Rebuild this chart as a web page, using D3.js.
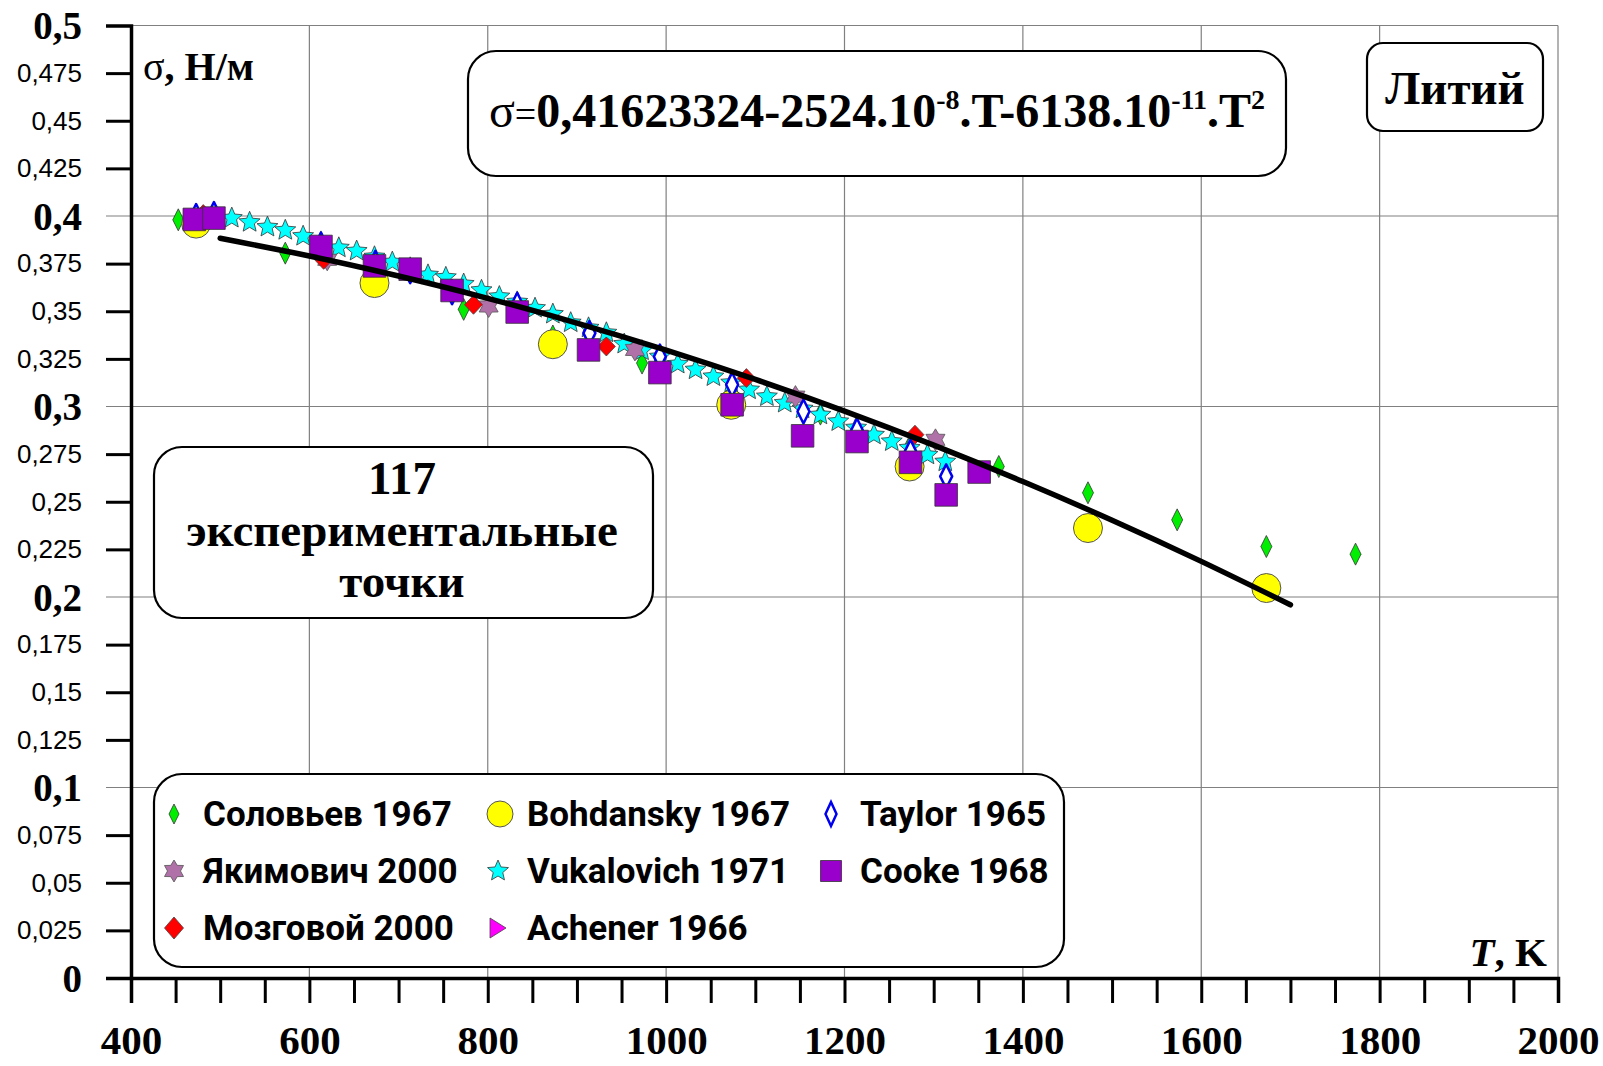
<!DOCTYPE html>
<html lang="ru">
<head>
<meta charset="utf-8">
<title>Литий: поверхностное натяжение</title>
<script src="https://cdnjs.cloudflare.com/ajax/libs/d3/7.8.5/d3.min.js"></script>
<style>
  body { margin: 0; background: #fff; }
  svg { display: block; }
  .minor text { font-family: "Liberation Sans", Arial, sans-serif; font-size: 26px; }
  .serif { font-family: "Liberation Serif", "Times New Roman", serif; font-weight: bold; }
  .leg { font-family: Roboto, "Open Sans", sans-serif; font-weight: bold; font-size: 35px; }
</style>
</head>
<body>
<div id="chart"></div>
<script>
// --- data ---
var solovievT = [453, 573, 673, 773, 873, 973, 1073, 1173, 1273, 1373, 1473, 1573, 1673, 1773];
var solovievS = [0.398, 0.3805, 0.370, 0.351, 0.337, 0.3228, 0.309, 0.296, 0.279, 0.2685, 0.2547, 0.2405, 0.2265, 0.2225];

var bohdanskyT = [473, 673, 873, 1073, 1273, 1473, 1673];
var bohdanskyS = [0.396, 0.3648, 0.3327, 0.3009, 0.2685, 0.2362, 0.2047];

var taylorT = [473, 493, 613, 674, 713, 760, 833, 914, 993, 1074, 1154, 1214, 1274, 1314];
var taylorS = [0.400, 0.401, 0.385, 0.3754, 0.371, 0.360, 0.3534, 0.3385, 0.3262, 0.3114, 0.2974, 0.2874, 0.2762, 0.2633];

var yakimovichT = [473, 620, 801, 965, 1145, 1302];
var yakimovichS = [0.400, 0.377, 0.3525, 0.3297, 0.3052, 0.2825];

var vukalovichT = [473, 493, 513, 533, 553, 573, 593, 613, 633, 653, 673, 693, 713, 733, 753,
  773, 793, 813, 833, 853, 873, 893, 913, 933, 953, 973, 993, 1013, 1033, 1053, 1073, 1093,
  1113, 1133, 1153, 1173, 1193, 1213, 1233, 1253, 1273, 1293, 1313];
var vukalovichS = [0.401, 0.400, 0.3989, 0.3967, 0.3942, 0.3925, 0.3894, 0.3864, 0.3833, 0.3816,
  0.3786, 0.3758, 0.3728, 0.3691, 0.3678, 0.3643, 0.3610, 0.3577, 0.3549, 0.3516, 0.3485, 0.3440,
  0.3413, 0.3387, 0.3328, 0.3293, 0.3261, 0.3223, 0.3193, 0.3157, 0.3125, 0.3088, 0.3052, 0.3018,
  0.2988, 0.2956, 0.2921, 0.2888, 0.2851, 0.2816, 0.2782, 0.2746, 0.2710];

var cookeT = [471, 493, 613, 673, 713, 760, 833, 913, 993, 1074, 1153, 1214, 1274, 1314, 1351];
var cookeS = [0.3982, 0.3989, 0.3840, 0.3738, 0.3721, 0.3609, 0.3496, 0.3297, 0.3178, 0.3009,
  0.2846, 0.2816, 0.2707, 0.2536, 0.2656];

var mozgovoyT = [481, 616, 784, 933, 1090, 1279];
var mozgovoyS = [0.401, 0.377, 0.3534, 0.3315, 0.3149, 0.2852];

var achenerT = [];
var achenerS = [];

// fitted curve (points on the drawn line)
var fitT = [500, 600, 700, 800, 900, 1000, 1100, 1200, 1300, 1400, 1500, 1600, 1700];
var fitS = [0.3883, 0.3790, 0.3685, 0.3568, 0.3438, 0.3296, 0.3142, 0.2976, 0.2797, 0.2606, 0.2403, 0.2187, 0.1959];

var xTicks = d3.range(400, 2001, 50);
var xLabels = [400, 600, 800, 1000, 1200, 1400, 1600, 1800, 2000];
var yTicks = d3.range(0, 0.5001, 0.025);
var yMajor = [0, 0.1, 0.2, 0.3, 0.4, 0.5];

var legendNames = [
  ["Соловьев 1967", "Bohdansky 1967", "Taylor 1965"],
  ["Якимович 2000", "Vukalovich 1971", "Cooke 1968"],
  ["Мозговой 2000", "Achener 1966"]
];

// --- shapes ---
function diamond(w, h) { return "M0," + (-h) + "L" + w + ",0L0," + h + "L" + (-w) + ",0Z"; }
function star(n, R, r) {
  var p = [];
  for (var i = 0; i < 2 * n; i++) {
    var a = -Math.PI / 2 + i * Math.PI / n, rad = i % 2 ? r : R;
    p.push([rad * Math.cos(a), rad * Math.sin(a)]);
  }
  return "M" + p.join("L") + "Z";
}
function square(s) { return "M" + (-s) + "," + (-s) + "H" + s + "V" + s + "H" + (-s) + "Z"; }
function triRight(w, h) { return "M" + (-w) + "," + (-h) + "L" + w + ",0L" + (-w) + "," + h + "Z"; }

var series = {
  "Соловьев 1967": {T: solovievT, S: solovievS, path: diamond(5.5, 11), legPath: diamond(5, 10), fill: "#00ee00", stroke: "#333", sw: 0.8},
  "Bohdansky 1967": {T: bohdanskyT, S: bohdanskyS, circle: 14.5, legCircle: 13, fill: "#ffff00", stroke: "#555", sw: 1},
  "Taylor 1965": {T: taylorT, S: taylorS, path: diamond(6, 12), legPath: diamond(5.5, 12), fill: "#fff", stroke: "#0000ee", sw: 2.5},
  "Якимович 2000": {T: yakimovichT, S: yakimovichS, path: star(6, 11, 6.5), legPath: star(6, 11, 6.5), fill: "#b070a8", stroke: "#555", sw: 0.8},
  "Vukalovich 1971": {T: vukalovichT, S: vukalovichS, path: star(5, 11, 5), legPath: star(5, 11, 5), fill: "#00ffff", stroke: "#333", sw: 0.8},
  "Cooke 1968": {T: cookeT, S: cookeS, path: square(11.3), legPath: square(10.5), fill: "#9900cc", stroke: "#333", sw: 0.8},
  "Мозговой 2000": {T: mozgovoyT, S: mozgovoyS, path: diamond(9, 9.5), legPath: diamond(9.5, 11), fill: "#ff0000", stroke: "#444", sw: 0.8},
  "Achener 1966": {T: achenerT, S: achenerS, path: triRight(8, 9), legPath: triRight(8, 10), fill: "#ff00ff", stroke: "#444", sw: 0.8}
};
var drawOrder = ["Соловьев 1967", "Bohdansky 1967", "Vukalovich 1971", "Якимович 2000", "Мозговой 2000",
  "Taylor 1965", "Achener 1966", "Cooke 1968"];

var W = 1603, H = 1066;
var x = d3.scaleLinear().domain([400, 2000]).range([131, 1558]);
var y = d3.scaleLinear().domain([0, 0.5]).range([978, 25.5]);

var svg = d3.select("#chart").append("svg").attr("width", W).attr("height", H);
svg.append("rect").attr("width", W).attr("height", H).attr("fill", "#fff");

// grid
svg.append("g").selectAll("line.v").data(xLabels.slice(1)).join("line")
  .attr("x1", d => x(d)).attr("x2", d => x(d)).attr("y1", y(0.5)).attr("y2", y(0))
  .attr("stroke", "#808080").attr("stroke-width", 1.2);
svg.append("g").selectAll("line.h").data(yMajor).join("line")
  .attr("x1", 106).attr("x2", x(2000)).attr("y1", d => y(d)).attr("y2", d => y(d))
  .attr("stroke", "#808080").attr("stroke-width", 1.2);

// y axis
var fmt = d => String(+d.toFixed(3)).replace(".", ",");
var isMajor = d => Math.abs(d * 10 - Math.round(d * 10)) < 1e-6;
var yAxis = svg.append("g").attr("transform", "translate(" + x(400) + ",0)")
  .call(d3.axisLeft(y).tickValues(yTicks).tickSize(25).tickPadding(24).tickFormat(fmt));
yAxis.select(".domain").attr("stroke", "#000").attr("stroke-width", 3.5);
yAxis.selectAll(".tick").attr("class", d => isMajor(d) ? "tick major" : "tick minor");
yAxis.selectAll(".tick line").attr("stroke", d => isMajor(d) ? "none" : "#000").attr("stroke-width", 3);
yAxis.selectAll(".tick text").attr("font-family", null).attr("font-size", null).attr("fill", "#000");
yAxis.selectAll(".major text").attr("class", "serif").style("font-size", "39px").attr("dy", "0.34em");

// x axis
var xAxis = svg.append("g").attr("transform", "translate(0," + y(0) + ")")
  .call(d3.axisBottom(x).tickValues(xTicks).tickSize(25).tickPadding(22)
    .tickFormat(d => xLabels.indexOf(d) >= 0 ? d : ""));
xAxis.select(".domain").attr("stroke", "#000").attr("stroke-width", 3.5);
xAxis.selectAll(".tick line").attr("stroke", "#000").attr("stroke-width", 3);
xAxis.selectAll(".tick text").attr("font-family", null).attr("font-size", null).attr("fill", "#000")
  .attr("class", "serif").style("font-size", "41px");

// axis titles
var ylab = svg.append("text").attr("class", "serif").attr("x", 143).attr("y", 80).style("font-size", "40px");
ylab.append("tspan").attr("font-weight", "normal").text("σ");
ylab.append("tspan").text(", Н/м");
var xlab = svg.append("text").attr("class", "serif").attr("x", 1547).attr("y", 966)
  .attr("text-anchor", "end").style("font-size", "41px");
xlab.append("tspan").attr("font-style", "italic").text("T");
xlab.append("tspan").text(", K");

// markers
var plot = svg.append("g");
drawOrder.forEach(function (name) {
  var s = series[name];
  var pts = s.T.map((t, i) => [t, s.S[i]]);
  var g = plot.append("g");
  if (s.circle) {
    g.selectAll("circle").data(pts).join("circle")
      .attr("cx", d => x(d[0])).attr("cy", d => y(d[1])).attr("r", s.circle)
      .attr("fill", s.fill).attr("stroke", s.stroke).attr("stroke-width", s.sw);
  } else {
    g.selectAll("path").data(pts).join("path")
      .attr("d", s.path).attr("transform", d => "translate(" + x(d[0]) + "," + y(d[1]) + ")")
      .attr("fill", s.fill).attr("stroke", s.stroke).attr("stroke-width", s.sw)
      .attr("stroke-linejoin", "round");
  }
});

// fit line
svg.append("path")
  .datum(fitT.map((t, i) => [t, fitS[i]]))
  .attr("d", d3.line().x(d => x(d[0])).y(d => y(d[1])).curve(d3.curveNatural))
  .attr("fill", "none").attr("stroke", "#000").attr("stroke-width", 5.5).attr("stroke-linecap", "round");

// boxes
function box(x0, y0, x1, y1, r) {
  return svg.append("rect").attr("x", x0).attr("y", y0).attr("width", x1 - x0).attr("height", y1 - y0)
    .attr("rx", r).attr("ry", r).attr("fill", "#fff").attr("stroke", "#000").attr("stroke-width", 2.2);
}

box(468, 51, 1286, 176, 28);
var f = svg.append("text").attr("class", "serif").attr("x", 877).attr("y", 127)
  .attr("text-anchor", "middle").style("font-size", "48px");
f.append("tspan").attr("font-weight", "normal").text("σ");
f.append("tspan").attr("font-weight", "normal").attr("font-size", "38px").text("=");
f.append("tspan").text("0,41623324-2524.10");
f.append("tspan").attr("font-size", "28px").attr("dy", -18).text("-8");
f.append("tspan").attr("dy", 18).text(".T-6138.10");
f.append("tspan").attr("font-size", "28px").attr("dy", -18).text("-11");
f.append("tspan").attr("dy", 18).text(".T");
f.append("tspan").attr("font-size", "28px").attr("dy", -18).text("2");

box(1367, 43, 1543, 131, 16);
svg.append("text").attr("class", "serif").attr("x", 1455).attr("y", 104)
  .attr("text-anchor", "middle").style("font-size", "47px").text("Литий");

box(154, 447, 653, 618, 28);
[["117", 494], ["экспериментальные", 546], ["точки", 597]].forEach(function (l) {
  svg.append("text").attr("class", "serif").attr("x", 402).attr("y", l[1])
    .attr("text-anchor", "middle").style("font-size", "47px").text(l[0]);
});

// legend
box(154, 774, 1064, 967, 28);
var colX = [174, 498, 831], rowY = [814, 871, 928];
legendNames.forEach(function (row, ri) {
  row.forEach(function (name, ci) {
    var s = series[name];
    var gx = colX[ci], gy = rowY[ri];
    if (s.legCircle) {
      svg.append("circle").attr("cx", gx + 2).attr("cy", gy).attr("r", s.legCircle)
        .attr("fill", s.fill).attr("stroke", s.stroke).attr("stroke-width", s.sw);
    } else {
      svg.append("path").attr("d", s.legPath).attr("transform", "translate(" + gx + "," + gy + ")")
        .attr("fill", s.fill).attr("stroke", s.stroke).attr("stroke-width", s.sw);
    }
    svg.append("text").attr("class", "leg").attr("x", gx + 29).attr("y", gy + 12).text(name);
  });
});
</script>
</body>
</html>
